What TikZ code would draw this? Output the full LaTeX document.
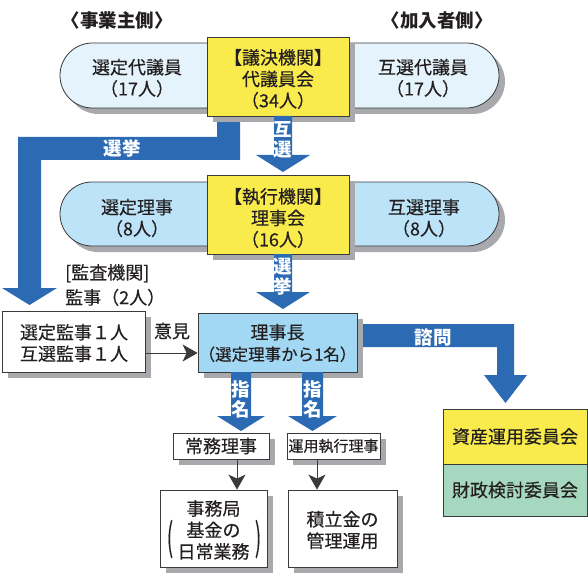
\documentclass[tikz,border=0pt]{standalone}
\usepackage{fontspec}
\usepackage{graphicx}
\setmainfont{Noto Sans CJK JP}
\newfontfamily\mfont{Noto Sans CJK JP}[FakeBold=0.35]
\usetikzlibrary{shapes.misc,shadows,arrows.meta,calc}
\pgfdeclarelayer{bg}
\pgfsetlayers{bg,main}
\definecolor{txt}{HTML}{231F20}
\definecolor{edge}{HTML}{3A3A3A}
\definecolor{shade}{HTML}{A7A9AC}
\definecolor{pillA}{HTML}{E5F4FC}
\definecolor{pillB}{HTML}{BCE3F7}
\definecolor{ylw}{HTML}{F9EB4C}
\definecolor{chief}{HTML}{A2D8F4}
\definecolor{grn}{HTML}{A6D8C0}
\definecolor{arrowblue}{HTML}{2C6AB3}
\begin{document}
\begin{tikzpicture}[x=1pt,y=-1pt,
  every node/.style={text=txt, font=\mfont\fontsize{18}{21.5}\selectfont, inner sep=0pt, align=center},
  box/.style={draw=edge, line width=0.8pt, rectangle},
  shadowed/.style={general shadow={fill=shade, shadow xshift=6pt, shadow yshift=-6pt}},
  pill/.style={draw=edge, line width=0.8pt, rounded rectangle, minimum width=439pt, minimum height=65pt, shadowed},
  bigarrow/.style={fill=arrowblue, draw=none},
  arrowlabel/.style={text=white, font=\rmfamily\fontsize{18.5}{20}\selectfont\bfseries},
  thinarrow/.style={draw=edge, line width=0.8pt, -{Stealth[length=15pt,width=17pt,inset=4pt]}},
  head/.style={font=\rmfamily\fontsize{18.5}{20}\selectfont\bfseries}
]
\useasboundingbox (0,0) rectangle (588,580);

% headers
\node[head] (hL) at (117,20) {〈事業主側〉};
\node[head] (hR) at (437,20) {〈加入者側〉};

% row 1
\node[pill, fill=pillA] (p1) at (279.5,75.5) {};
\node[box, fill=ylw, shadowed, minimum width=142pt, minimum height=79pt] (y1) at (278,76.5) {};
\node (y1t) at (278,79) {【議決機関】\\代議員会\\（34人）};
\node (t1L) at (137,78) {選定代議員\\（17人）};
\node (t1R) at (423,78) {互選代議員\\（17人）};

% row 2
\node[pill, fill=pillB, minimum height=64pt] (p2) at (279.5,214) {};
\node[box, fill=ylw, shadowed, minimum width=142pt, minimum height=79pt] (y2) at (278,214.5) {};
\node (y2t) at (278,218) {【執行機関】\\理事会\\（16人）};
\node (t2L) at (137,218) {選定理事\\（8人）};
\node (t2R) at (424,218) {互選理事\\（8人）};

% auditors
\node[anchor=west, align=left, font=\mfont\fontsize{18}{25}\selectfont] (kl) at (65,285) {[監査機関]\\監事（2人）};
\node[box, fill=white, shadowed, minimum width=143pt, minimum height=61pt] (kanji) at (73.5,341.5) {};
\node (kanjit) at (74,343) {選定監事１人\\互選監事１人};
\node (iken) at (172,331) {意見};

% chairman
\node[box, fill=chief, shadowed, minimum width=159pt, minimum height=59pt] (chief) at (277.5,342.5) {};
\node (chieft) at (277.5,343) {理事長\\{\fontsize{16.5}{20}\selectfont（選定理事から1名）}};

% lower boxes
\node[box, fill=white, shadowed, minimum width=96pt, minimum height=26pt] (jomu) at (221,446) {常務理事};
\node[box, fill=white, shadowed, minimum width=93pt, minimum height=26pt, font=\mfont\fontsize{15}{18}\selectfont] (unyo) at (333.5,446) {運用執行理事};
\node[box, fill=white, shadowed, minimum width=107pt, minimum height=77pt] (jimu) at (213.5,528.5) {};
\node (jimut) at (213.5,530) {事務局\\基金の\\日常業務};
\node (jimupl) at (170,539) {\scalebox{1}[2.1]{(}};
\node (jimupr) at (258,539) {\scalebox{1}[2.1]{)}};
\node[box, fill=white, shadowed, minimum width=109pt, minimum height=77pt] (tsumi) at (342.5,528.5) {};
\node (tsumit) at (342.5,530) {積立金の\\管理運用};

% committees
\node[box, fill=ylw, minimum width=144pt, minimum height=55pt] (shisan) at (515,436.5) {資産運用委員会};
\node[box, fill=grn, minimum width=144pt, minimum height=52pt] (zaisei) at (515,490) {財政検討委員会};

% thick arrows behind boxes
\begin{pgfonlayer}{bg}
\fill[bigarrow] (217,108) -- (240,108) -- (240,160) -- (41,160) -- (41,288) -- (57,288) -- (29.5,305) -- (2,288) -- (18,288) -- (18,137) -- (217,137) -- cycle;
\fill[bigarrow] (357,324) -- (514,324) -- (514,375) -- (527,375) -- (505.5,403) -- (484,375) -- (497,375) -- (497,347) -- (357,347) -- cycle;
\end{pgfonlayer}

% thick straight arrows
\fill[bigarrow] (274,116) -- (292,116) -- (292,155) -- (310,155) -- (283,172) -- (256,155) -- (274,155) -- cycle;
\fill[bigarrow] (274,254) -- (292,254) -- (292,292) -- (310,292) -- (283,309) -- (256,292) -- (274,292) -- cycle;
\fill[bigarrow] (231,372) -- (251,372) -- (251,416) -- (265,416) -- (241,431) -- (217,416) -- (231,416) -- cycle;
\fill[bigarrow] (302,372) -- (323,372) -- (323,416) -- (337,416) -- (312.5,431) -- (288,416) -- (302,416) -- cycle;

% arrow labels
\node[arrowlabel] (lsk1) at (122,148) {選挙};
\node[arrowlabel] (lgs) at (283,140) {互\\選};
\node[arrowlabel] (lsk2) at (283,277) {選\\挙};
\node[arrowlabel] (lsm1) at (241,399) {指\\名};
\node[arrowlabel] (lsm2) at (312.5,399) {指\\名};
\node[arrowlabel] (lsh) at (433,337) {諮問};

% thin arrows
\draw[thinarrow] ([yshift=-11.5pt]kanji.east) -- ([yshift=-11.5pt]kanji.east -| chief.west);
\draw[thinarrow] ([xshift=16pt]jomu.south) -- ([xshift=16pt]jomu.south |- jimu.north);
\draw[thinarrow] ([xshift=-16.5pt]unyo.south) -- ([xshift=-16.5pt]unyo.south |- tsumi.north);
\end{tikzpicture}
\end{document}
